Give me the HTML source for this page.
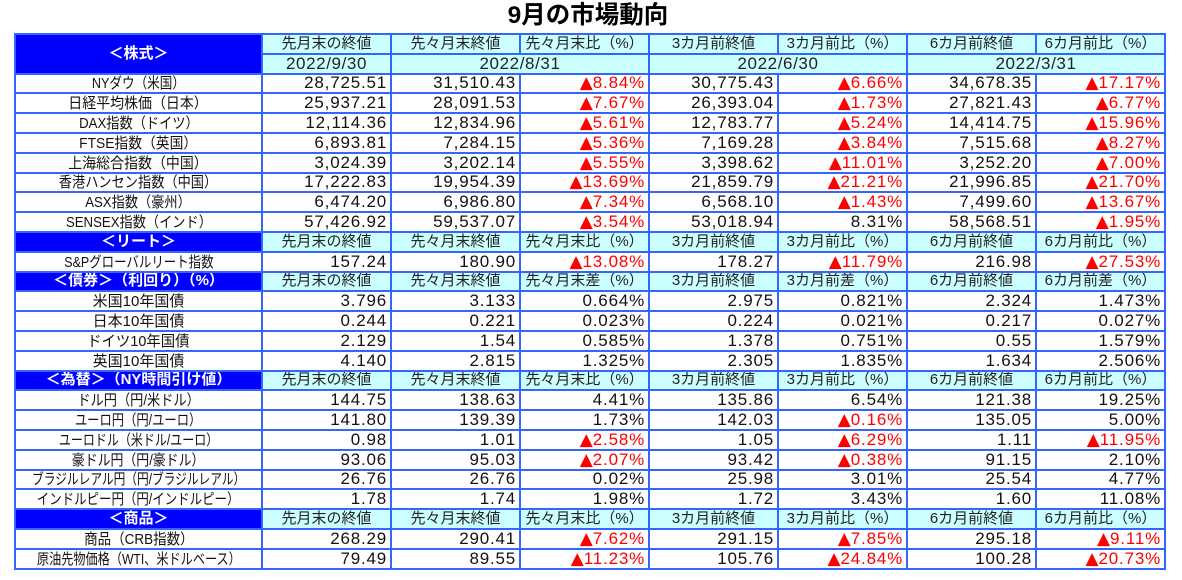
<!DOCTYPE html>
<html><head><meta charset="utf-8">
<style>
html,body{margin:0;padding:0;background:#fff;}
body{width:1182px;height:580px;position:relative;overflow:hidden;font-family:"Liberation Sans","Noto Sans CJK JP",sans-serif;color:#111;}
.title{position:absolute;left:0;width:1176px;top:1px;text-align:center;font-size:24.5px;font-weight:bold;line-height:30px;color:#000;}
table{position:absolute;left:14px;top:33px;border-collapse:collapse;table-layout:fixed;width:1152px;}
tr{height:19.8px;}
td{border:2px solid #3366ff;padding:0;overflow:hidden;white-space:nowrap;vertical-align:middle;line-height:16px;}
td.l{text-align:center;font-size:15px;}
.w{display:inline-block;margin:0 -40px;transform-origin:50% 50%;position:relative;top:1px;}
td.s{background:#0000ff;color:#fff;font-weight:bold;text-align:center;font-size:15px;}
td.h{background:#ccffff;text-align:center;font-size:15px;color:#222;}
td.d{background:#ccffff;text-align:center;font-size:17px;letter-spacing:0.6px;color:#222;}
td.n{text-align:right;font-size:17px;letter-spacing:0.8px;padding-right:3px;}
td.r{color:#ff0000;}
.t{font-family:"DejaVu Sans",sans-serif;letter-spacing:0;}
</style></head><body>
<div class="title">9月の市場動向</div>
<table>
<colgroup><col style="width:247px"><col style="width:129px"><col style="width:129px"><col style="width:129px"><col style="width:129px"><col style="width:129px"><col style="width:129px"><col style="width:129px"></colgroup>
<tr><td class="s" rowspan="2">＜株式＞</td><td class="h">先月末の終値</td><td class="h">先々月末終値</td><td class="h">先々月末比（%）</td><td class="h">3カ月前終値</td><td class="h">3カ月前比（%）</td><td class="h">6カ月前終値</td><td class="h">6カ月前比（%）</td></tr>
<tr><td class="d">2022/9/30</td><td class="d" colspan="2">2022/8/31</td><td class="d" colspan="2">2022/6/30</td><td class="d" colspan="2">2022/3/31</td></tr>
<tr><td class="l"><span class="w" style="transform:scaleX(0.84)">NYダウ（米国）</span></td><td class="n">28,725.51</td><td class="n">31,510.43</td><td class="n r"><span class="t">▲</span>8.84%</td><td class="n">30,775.43</td><td class="n r"><span class="t">▲</span>6.66%</td><td class="n">34,678.35</td><td class="n r"><span class="t">▲</span>17.17%</td></tr>
<tr><td class="l"><span class="w" style="transform:scaleX(0.93)">日経平均株価（日本）</span></td><td class="n">25,937.21</td><td class="n">28,091.53</td><td class="n r"><span class="t">▲</span>7.67%</td><td class="n">26,393.04</td><td class="n r"><span class="t">▲</span>1.73%</td><td class="n">27,821.43</td><td class="n r"><span class="t">▲</span>6.77%</td></tr>
<tr><td class="l"><span class="w" style="transform:scaleX(0.88)">DAX指数（ドイツ）</span></td><td class="n">12,114.36</td><td class="n">12,834.96</td><td class="n r"><span class="t">▲</span>5.61%</td><td class="n">12,783.77</td><td class="n r"><span class="t">▲</span>5.24%</td><td class="n">14,414.75</td><td class="n r"><span class="t">▲</span>15.96%</td></tr>
<tr><td class="l"><span class="w" style="transform:scaleX(0.92)">FTSE指数（英国）</span></td><td class="n">6,893.81</td><td class="n">7,284.15</td><td class="n r"><span class="t">▲</span>5.36%</td><td class="n">7,169.28</td><td class="n r"><span class="t">▲</span>3.84%</td><td class="n">7,515.68</td><td class="n r"><span class="t">▲</span>8.27%</td></tr>
<tr><td class="l"><span class="w" style="transform:scaleX(0.93)">上海総合指数（中国）</span></td><td class="n">3,024.39</td><td class="n">3,202.14</td><td class="n r"><span class="t">▲</span>5.55%</td><td class="n">3,398.62</td><td class="n r"><span class="t">▲</span>11.01%</td><td class="n">3,252.20</td><td class="n r"><span class="t">▲</span>7.00%</td></tr>
<tr><td class="l"><span class="w" style="transform:scaleX(0.88)">香港ハンセン指数（中国）</span></td><td class="n">17,222.83</td><td class="n">19,954.39</td><td class="n r"><span class="t">▲</span>13.69%</td><td class="n">21,859.79</td><td class="n r"><span class="t">▲</span>21.21%</td><td class="n">21,996.85</td><td class="n r"><span class="t">▲</span>21.70%</td></tr>
<tr><td class="l"><span class="w" style="transform:scaleX(0.88)">ASX指数（豪州）</span></td><td class="n">6,474.20</td><td class="n">6,986.80</td><td class="n r"><span class="t">▲</span>7.34%</td><td class="n">6,568.10</td><td class="n r"><span class="t">▲</span>1.43%</td><td class="n">7,499.60</td><td class="n r"><span class="t">▲</span>13.67%</td></tr>
<tr><td class="l"><span class="w" style="transform:scaleX(0.88)">SENSEX指数（インド）</span></td><td class="n">57,426.92</td><td class="n">59,537.07</td><td class="n r"><span class="t">▲</span>3.54%</td><td class="n">53,018.94</td><td class="n">8.31%</td><td class="n">58,568.51</td><td class="n r"><span class="t">▲</span>1.95%</td></tr>
<tr><td class="s">＜リート＞</td><td class="h">先月末の終値</td><td class="h">先々月末終値</td><td class="h">先々月末比（%）</td><td class="h">3カ月前終値</td><td class="h">3カ月前比（%）</td><td class="h">6カ月前終値</td><td class="h">6カ月前比（%）</td></tr>
<tr><td class="l"><span class="w" style="transform:scaleX(0.83)">S&amp;Pグローバルリート指数</span></td><td class="n">157.24</td><td class="n">180.90</td><td class="n r"><span class="t">▲</span>13.08%</td><td class="n">178.27</td><td class="n r"><span class="t">▲</span>11.79%</td><td class="n">216.98</td><td class="n r"><span class="t">▲</span>27.53%</td></tr>
<tr><td class="s">＜債券＞（利回り）（%）</td><td class="h">先月末の終値</td><td class="h">先々月末終値</td><td class="h">先々月末差（%）</td><td class="h">3カ月前終値</td><td class="h">3カ月前差（%）</td><td class="h">6カ月前終値</td><td class="h">6カ月前差（%）</td></tr>
<tr><td class="l"><span class="w">米国10年国債</span></td><td class="n">3.796</td><td class="n">3.133</td><td class="n">0.664%</td><td class="n">2.975</td><td class="n">0.821%</td><td class="n">2.324</td><td class="n">1.473%</td></tr>
<tr><td class="l"><span class="w">日本10年国債</span></td><td class="n">0.244</td><td class="n">0.221</td><td class="n">0.023%</td><td class="n">0.224</td><td class="n">0.021%</td><td class="n">0.217</td><td class="n">0.027%</td></tr>
<tr><td class="l"><span class="w" style="transform:scaleX(0.96)">ドイツ10年国債</span></td><td class="n">2.129</td><td class="n">1.54</td><td class="n">0.585%</td><td class="n">1.378</td><td class="n">0.751%</td><td class="n">0.55</td><td class="n">1.579%</td></tr>
<tr><td class="l"><span class="w">英国10年国債</span></td><td class="n">4.140</td><td class="n">2.815</td><td class="n">1.325%</td><td class="n">2.305</td><td class="n">1.835%</td><td class="n">1.634</td><td class="n">2.506%</td></tr>
<tr><td class="s">＜為替＞（NY時間引け値）</td><td class="h">先月末の終値</td><td class="h">先々月末終値</td><td class="h">先々月末比（%）</td><td class="h">3カ月前終値</td><td class="h">3カ月前比（%）</td><td class="h">6カ月前終値</td><td class="h">6カ月前比（%）</td></tr>
<tr><td class="l"><span class="w" style="transform:scaleX(0.88)">ドル円（円/米ドル）</span></td><td class="n">144.75</td><td class="n">138.63</td><td class="n">4.41%</td><td class="n">135.86</td><td class="n">6.54%</td><td class="n">121.38</td><td class="n">19.25%</td></tr>
<tr><td class="l"><span class="w" style="transform:scaleX(0.82)">ユーロ円（円/ユーロ）</span></td><td class="n">141.80</td><td class="n">139.39</td><td class="n">1.73%</td><td class="n">142.03</td><td class="n r"><span class="t">▲</span>0.16%</td><td class="n">135.05</td><td class="n">5.00%</td></tr>
<tr><td class="l"><span class="w" style="transform:scaleX(0.8)">ユーロドル（米ドル/ユーロ）</span></td><td class="n">0.98</td><td class="n">1.01</td><td class="n r"><span class="t">▲</span>2.58%</td><td class="n">1.05</td><td class="n r"><span class="t">▲</span>6.29%</td><td class="n">1.11</td><td class="n r"><span class="t">▲</span>11.95%</td></tr>
<tr><td class="l"><span class="w" style="transform:scaleX(0.86)">豪ドル円（円/豪ドル）</span></td><td class="n">93.06</td><td class="n">95.03</td><td class="n r"><span class="t">▲</span>2.07%</td><td class="n">93.42</td><td class="n r"><span class="t">▲</span>0.38%</td><td class="n">91.15</td><td class="n">2.10%</td></tr>
<tr><td class="l"><span class="w" style="transform:scaleX(0.78)">ブラジルレアル円（円/ブラジルレアル）</span></td><td class="n">26.76</td><td class="n">26.76</td><td class="n">0.02%</td><td class="n">25.98</td><td class="n">3.01%</td><td class="n">25.54</td><td class="n">4.77%</td></tr>
<tr><td class="l"><span class="w" style="transform:scaleX(0.83)">インドルピー円（円/インドルピー）</span></td><td class="n">1.78</td><td class="n">1.74</td><td class="n">1.98%</td><td class="n">1.72</td><td class="n">3.43%</td><td class="n">1.60</td><td class="n">11.08%</td></tr>
<tr><td class="s">＜商品＞</td><td class="h">先月末の終値</td><td class="h">先々月末終値</td><td class="h">先々月末比（%）</td><td class="h">3カ月前終値</td><td class="h">3カ月前比（%）</td><td class="h">6カ月前終値</td><td class="h">6カ月前比（%）</td></tr>
<tr><td class="l"><span class="w" style="transform:scaleX(0.9)">商品（CRB指数）</span></td><td class="n">268.29</td><td class="n">290.41</td><td class="n r"><span class="t">▲</span>7.62%</td><td class="n">291.15</td><td class="n r"><span class="t">▲</span>7.85%</td><td class="n">295.18</td><td class="n r"><span class="t">▲</span>9.11%</td></tr>
<tr><td class="l"><span class="w" style="transform:scaleX(0.81)">原油先物価格（WTI、米ドルベース）</span></td><td class="n">79.49</td><td class="n">89.55</td><td class="n r"><span class="t">▲</span>11.23%</td><td class="n">105.76</td><td class="n r"><span class="t">▲</span>24.84%</td><td class="n">100.28</td><td class="n r"><span class="t">▲</span>20.73%</td></tr>
</table>
</body></html>
